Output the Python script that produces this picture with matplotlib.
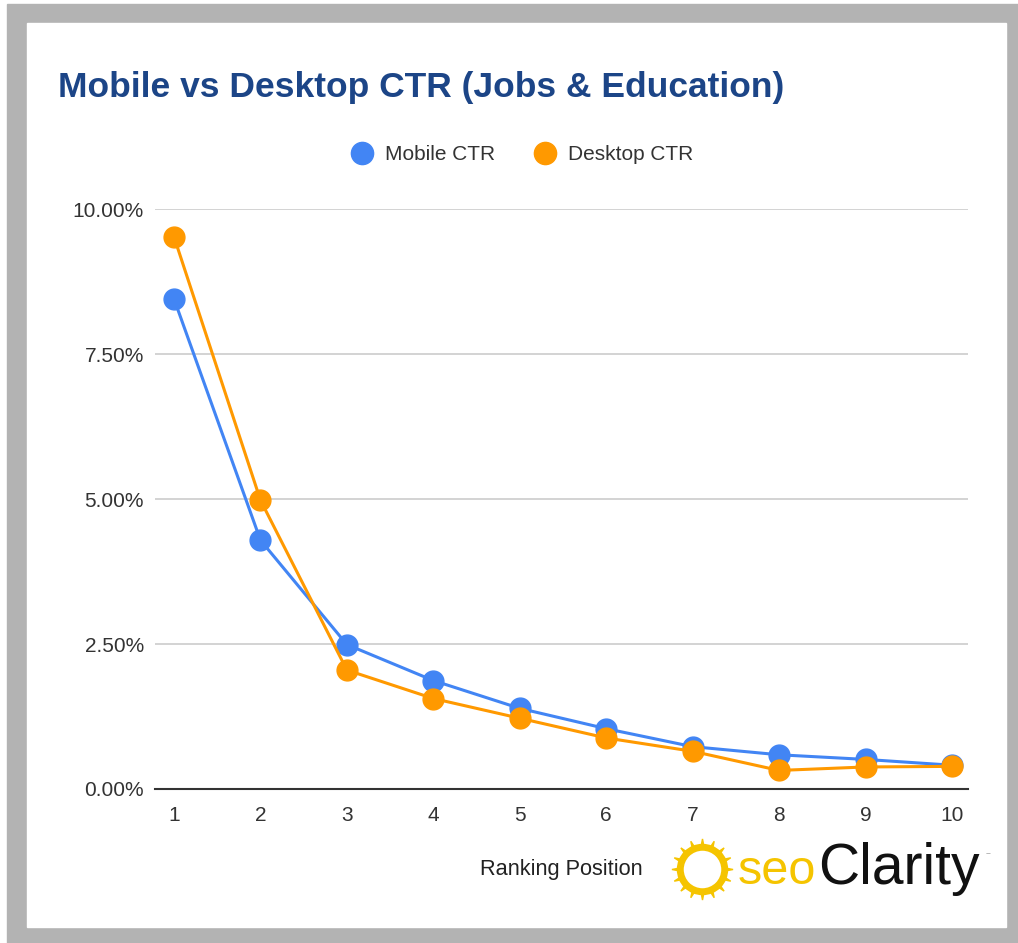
import matplotlib
matplotlib.use("Agg")
import matplotlib.pyplot as plt
from matplotlib.lines import Line2D
from matplotlib.patches import Rectangle
from matplotlib.ticker import FuncFormatter

plt.rcParams['font.family'] = ['Liberation Sans', 'DejaVu Sans']

# data
positions = [1, 2, 3, 4, 5, 6, 7, 8, 9, 10]
mobile_ctr = [8.45, 4.29, 2.49, 1.87, 1.39, 1.04, 0.73, 0.59, 0.51, 0.41]
desktop_ctr = [9.52, 4.98, 2.05, 1.56, 1.22, 0.88, 0.65, 0.32, 0.38, 0.39]
y_ticks = [0, 2.5, 5, 7.5, 10]

W, H = 1018, 943
blue = '#4285f4'
orange = '#ff9900'
yellow = '#f5c400'

fig = plt.figure(figsize=(W / 100, H / 100), dpi=100)

# grey frame + white panel
fig.add_artist(Rectangle((7 / W, 0), (W - 7) / W, (H - 4) / H,
                         transform=fig.transFigure, color='#b3b3b3', zorder=-10))
fig.add_artist(Rectangle((27 / W, 16 / H), 979 / W, 904 / H,
                         transform=fig.transFigure, color='white', zorder=-9))

ax = fig.add_axes([155 / W, (H - 789) / H, 813 / W, 580 / H])
ax.set_facecolor('none')

ax.plot(positions, mobile_ctr, color=blue, lw=2.2, marker='o', ms=15, zorder=3)
ax.plot(positions, desktop_ctr, color=orange, lw=2.2, marker='o', ms=15, zorder=4)

ax.set_xlim(1 - 19 / 86.4, 10 + 16 / 86.4)
ax.set_ylim(0, 10)
ax.set_xticks(positions)
ax.set_yticks(y_ticks)
ax.yaxis.set_major_formatter(FuncFormatter(lambda v, p: f"{v:.2f}%"))
ax.grid(axis='y', color='#cccccc', lw=1.2)
ax.set_axisbelow(True)
for s in ['top', 'right', 'left']:
    ax.spines[s].set_visible(False)
ax.spines['bottom'].set_color('#333333')
ax.spines['bottom'].set_linewidth(1.5)
ax.spines['bottom'].set_zorder(2)
ax.tick_params(axis='both', length=0, labelsize=15, labelcolor='#333333')
ax.tick_params(axis='y', pad=8)
ax.tick_params(axis='x', pad=12)

# title
fig.text(58 / W, 1 - 88 / H, 'Mobile vs Desktop CTR (Jobs & Education)',
         ha='left', va='center', fontsize=25.5, fontweight='bold', color='#1c4587')

# legend
handles = [Line2D([], [], ls='none', marker='o', ms=16, color=blue),
           Line2D([], [], ls='none', marker='o', ms=16, color=orange)]
fig.legend(handles, ['Mobile CTR', 'Desktop CTR'], loc='center',
           bbox_to_anchor=(522 / W, 1 - 155 / H), ncol=2, frameon=False,
           fontsize=15, labelcolor='#333333', handlelength=1.0,
           handletextpad=0.6, columnspacing=1.9)

# x-axis title
fig.text(480 / W, 1 - 869 / H, 'Ranking Position', ha='left', va='center',
         fontsize=15.7, color='#222222')

# seoClarity logo
sun_xy = ([702 / W], [1 - 869 / H])
fig.add_artist(Line2D(*sun_xy, transform=fig.transFigure, marker=(16, 1, 0),
                      ms=44, color=yellow, ls='none'))
fig.add_artist(Line2D(*sun_xy, transform=fig.transFigure, marker='o', ms=32,
                      mfc='white', mec=yellow, mew=5, ls='none'))
seo = fig.text(738 / W, 1 - 884 / H, 'seo', ha='left', va='baseline',
               fontsize=35, color=yellow)
fig.canvas.draw()
bb = seo.get_window_extent()
fig.text(bb.x1 / W + 2 / W, 1 - 884 / H, 'Clarity', ha='left', va='baseline',
         fontsize=41, color='#111111')
fig.text(986 / W, 1 - 855 / H, '~', ha='left', va='center', fontsize=6, color='#777777')

fig.savefig('out.png', dpi=100)
